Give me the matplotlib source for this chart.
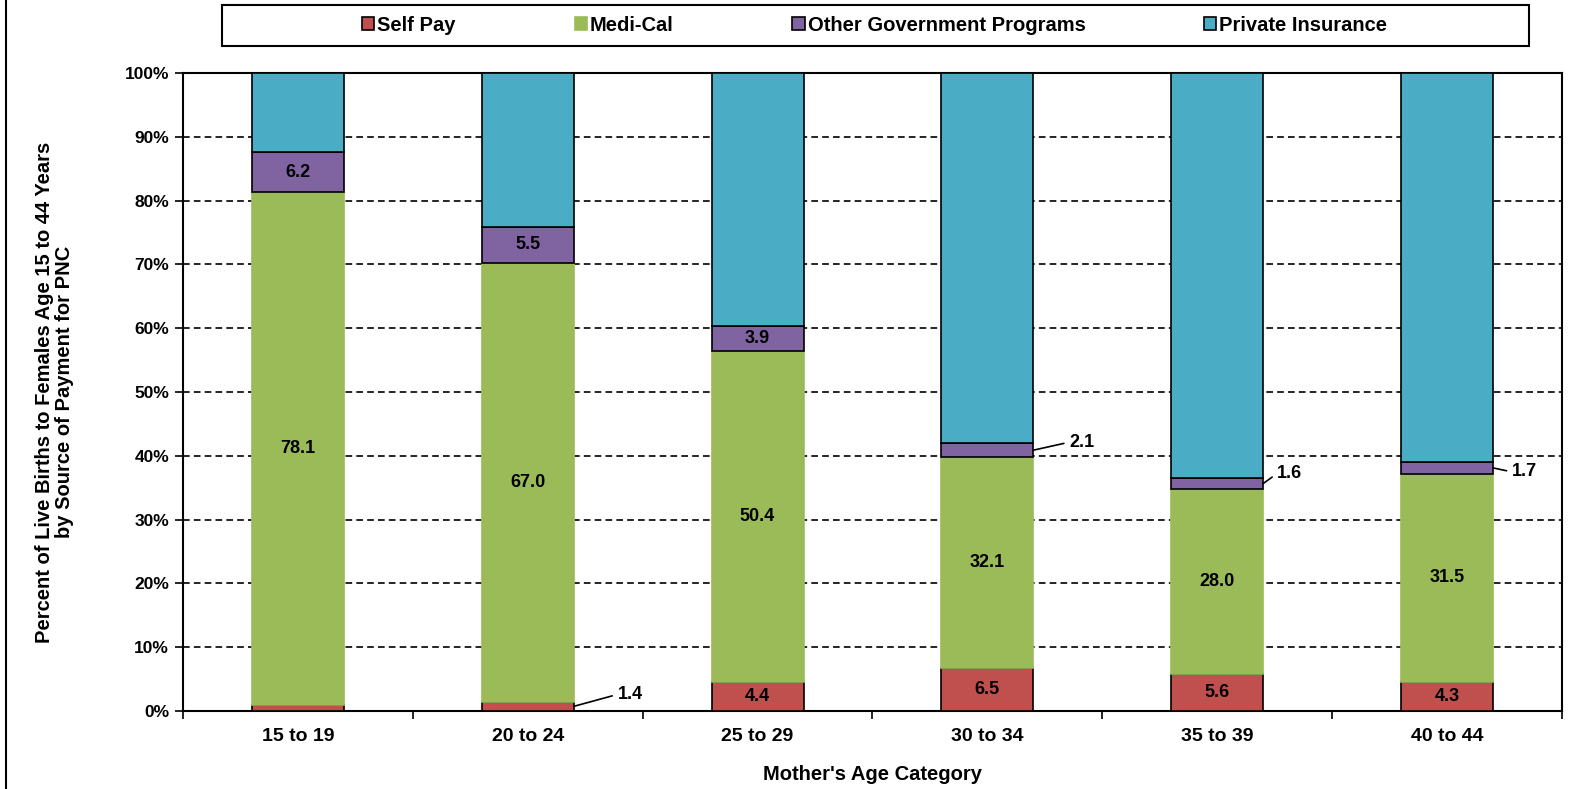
#! /usr/bin/env python3

import matplotlib.pyplot as plt
from matplotlib.patches import Rectangle
from matplotlib.lines import Line2D
import numpy as np

categories = ["15 to 19", "20 to 24", "25 to 29", "30 to 34", "35 to 39", "40 to 44"]
series_names = ["Self Pay", "Medi-Cal", "Other Government Programs", "Private Insurance"]

# percent of live births (labels), bars are normalised to 100%
self_pay = [0.9, 1.4, 4.4, 6.5, 5.6, 4.3]
medi_cal = [78.1, 67.0, 50.4, 32.1, 28.0, 31.5]
other_gov = [6.2, 5.5, 3.9, 2.1, 1.6, 1.7]
private_ins = [12.0, 23.5, 38.5, 56.3, 61.3, 58.7]

colors = ["#C0504D", "#9BBB59", "#8064A2", "#4BACC6"]
edges = ["black", "#9BBB59", "black", "black"]

# which labels go outside with a leader line: (series, bar) -> pixel offset
callouts = {(0, 1): (44, 12), (2, 3): (36, 8), (2, 4): (14, 10), (2, 5): (19, -4)}
hidden = {(0, 0), (3, 0), (3, 1), (3, 2), (3, 3), (3, 4), (3, 5)}

FONT = "Liberation Sans"


def make_chart():
    data = np.array([self_pay, medi_cal, other_gov, private_ins])
    shares = data / data.sum(axis=0) * 100
    x = np.arange(len(categories))

    fig = plt.figure(figsize=(15.95, 7.89), dpi=100)
    plt.rcParams["font.family"] = FONT
    plt.rcParams["font.weight"] = "bold"
    ax = fig.add_axes([0.1147, 0.0989, 0.8646, 0.8086])

    bottom = np.zeros(len(categories))
    for s in range(4):
        ax.bar(x, shares[s], 0.4, bottom=bottom, color=colors[s],
               edgecolor=edges[s], linewidth=1.2, label=series_names[s], zorder=3)
        for i in range(len(categories)):
            if (s, i) in hidden:
                continue
            yc = bottom[i] + shares[s][i] / 2
            txt = "%.1f" % data[s][i]
            if (s, i) in callouts:
                dx, dy = callouts[(s, i)]
                ax.annotate(txt, xy=(x[i] + 0.2, yc), xytext=(dx, dy),
                            textcoords="offset pixels", ha="left", va="center",
                            fontsize=13, fontweight="bold",
                            arrowprops=dict(arrowstyle="-", color="black", lw=1.2,
                                            shrinkA=2, shrinkB=0, relpos=(0, 0.5)))
            else:
                ax.text(x[i], yc, txt, ha="center", va="center",
                        fontsize=13, fontweight="bold", zorder=4)
        bottom += shares[s]

    ax.set_xlim(-0.5, len(categories) - 0.5)
    ax.set_ylim(0, 100)
    ax.set_yticks(np.arange(0, 101, 10))
    ax.set_yticklabels(["%d%%" % v for v in range(0, 101, 10)], fontsize=12.5, fontweight="bold")
    ax.set_xticks(x)
    ax.set_xticklabels(categories, fontsize=14, fontweight="bold")
    ax.set_xticks(np.arange(-0.5, len(categories)), minor=True)
    ax.tick_params(axis="x", which="major", length=0, pad=12)
    ax.tick_params(axis="x", which="minor", length=6, width=1.2, direction="out")
    ax.tick_params(axis="y", length=6, width=1.2, direction="out", pad=4)
    ax.yaxis.grid(True, linestyle=(0, (4, 2.5)), color="black", linewidth=1.2, zorder=0)
    ax.set_axisbelow(True)
    for sp in ax.spines.values():
        sp.set_linewidth(1.5)

    ax.set_xlabel("Mother's Age Category", fontsize=14.5, fontweight="bold", va="center")
    ax.xaxis.set_label_coords(0.5, -0.10)
    ax.set_ylabel("Percent of Live Births to Females Age 15 to 44 Years\nby Source of Payment for PNC",
                  fontsize=14.5, fontweight="bold", va="center", linespacing=1.1)
    ax.yaxis.set_label_coords(-0.093, 0.5)

    # legend box across the top
    fig.patches.append(Rectangle((0.139, 0.9417), 0.8194, 0.052, transform=fig.transFigure,
                                 fill=False, edgecolor="black", linewidth=1.5))
    handles, labels = ax.get_legend_handles_labels()
    fig.legend(handles, labels, loc="center", bbox_to_anchor=(0.5485, 0.9677), ncol=4,
               frameon=False, fontsize=14.5, handlelength=0.6, handleheight=0.6,
               handletextpad=0.15, columnspacing=5.9)

    # left border of the original frame
    fig.lines.append(Line2D([0.0035, 0.0035], [0, 1], transform=fig.transFigure,
                            color="black", linewidth=1.5))

    plt.savefig("out.png")


def main():
    make_chart()


if __name__ == "__main__":
    main()
